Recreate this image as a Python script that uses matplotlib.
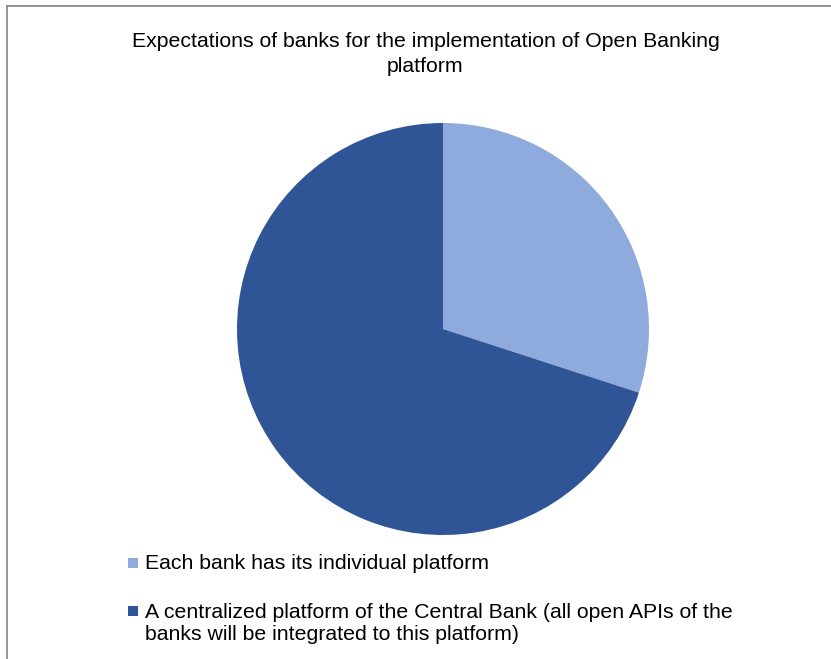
import matplotlib
matplotlib.use("Agg")
import matplotlib.pyplot as plt
from matplotlib.patches import Rectangle
from matplotlib.lines import Line2D

plt.rcParams["font.family"] = ["Liberation Sans", "DejaVu Sans"]

TITLE = "Expectations of banks for the implementation of Open Banking\nplatform"
LABELS = [
    "Each bank has its individual platform",
    "A centralized platform of the Central Bank (all open APIs of the\nbanks will be integrated to this platform)",
]
SHARES = [30, 70]
COLORS = ["#8faadc", "#2f5597"]

W, H = 831, 659
fig = plt.figure(figsize=(W / 100, H / 100), dpi=100)

# chart frame (only left and top edges visible)
fig.add_artist(Line2D([7 / W, 7 / W], [0, 1 - 6 / H], color="#8c8c8c", lw=1.3,
                      transform=fig.transFigure))
fig.add_artist(Line2D([7 / W, 1], [1 - 6 / H, 1 - 6 / H], color="#8c8c8c", lw=1.3,
                      transform=fig.transFigure))

# title: baseline of last line
fig.text(425.5 / W, 1 - 72 / H, TITLE, ha="center", va="baseline", fontsize=15.3,
         linespacing=1.37)

# pie
cx, cy, r = 443, 329, 206
ax = fig.add_axes([(cx - r) / W, (H - cy - r) / H, 2 * r / W, 2 * r / H])
ax.pie(SHARES, colors=COLORS, startangle=90, counterclock=False,
       wedgeprops=dict(linewidth=0))
ax.set_aspect("equal")
ax.set_xlim(-1, 1)
ax.set_ylim(-1, 1)
ax.axis("off")

# legend (square top y, text last baseline y)
sq_top = [558, 606]
base_y = [569, 640]
for lab, col, st, by in zip(LABELS, COLORS, sq_top, base_y):
    fig.add_artist(Rectangle((128 / W, (H - st - 10) / H), 10 / W, 10 / H,
                             color=col, lw=0, transform=fig.transFigure))
    fig.text(145 / W, 1 - by / H, lab, ha="left", va="baseline", fontsize=15.3,
             linespacing=1.21, transform=fig.transFigure)

fig.savefig("out.png", dpi=100)
